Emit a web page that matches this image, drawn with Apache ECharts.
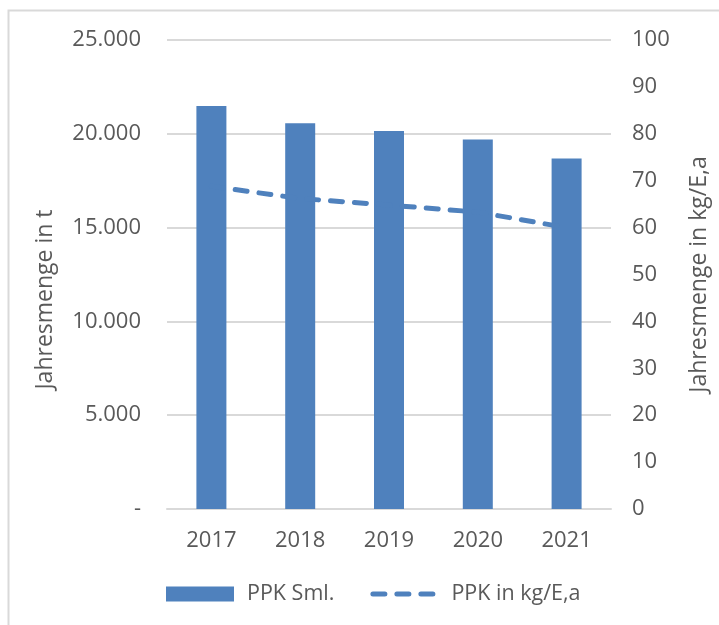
<!DOCTYPE html>
<html>
<head>
<meta charset="utf-8">
<script src="https://cdn.jsdelivr.net/npm/echarts@6/dist/echarts.min.js"></script>
<style>
  html, body { margin: 0; padding: 0; background: #fff; }
  #chart { width: 719px; height: 625px; }
</style>
</head>
<body>
<div id="chart"></div>
<script>
// Jahre
var years = ['2017', '2018', '2019', '2020', '2021'];
// PPK Sammelmenge in t
var ppkTonnen = [21480, 20560, 20150, 19700, 18680];
// PPK in kg pro Einwohner und Jahr
var ppkKgProEw = [68.8, 66.2, 64.8, 63.3, 60.0];

var blau = '#4f81bd';
var grau = '#595959';
var linie = '#d9d9d9';
var schrift = '"Open Sans", "Liberation Sans", sans-serif';

// drei gerundete Striche fuer die Legende (mit unsichtbaren Eckpunkten fuer 68x15)
var strich = function (x) {
  return 'M' + (x + 2.5) + ',5h12a2.5,2.5 0 0 1 0,5h-12a2.5,2.5 0 0 1 0,-5z';
};
var strichIcon = 'path://M0,0h0.1v0.1h-0.1z' + strich(0) + strich(24) + strich(48) + 'M67.9,14.9h0.1v0.1h-0.1z';

function tausender(v) {
  if (v === 0) return '-';
  return String(v).replace(/\B(?=(\d{3})+(?!\d))/g, '.');
}

var option = {
  animation: false,
  textStyle: { fontFamily: schrift },
  graphic: [{
    type: 'rect',
    shape: { x: 8.5, y: 10.5, width: 900, height: 800 },
    style: { fill: 'none', stroke: linie, lineWidth: 2 },
    silent: true
  }],
  grid: { left: 167, right: 108, top: 40, bottom: 116 },
  legend: {
    left: 161,
    top: 578,
    itemWidth: 68,
    itemHeight: 15,
    itemGap: 36,
    textStyle: { color: grau, fontSize: 21.5, fontFamily: schrift, padding: [0, 0, 0, 8] },
    data: [
      { name: 'PPK Sml.', icon: 'rect' },
      { name: 'PPK in kg/E,a', icon: strichIcon, itemStyle: { borderWidth: 0 } }
    ]
  },
  xAxis: {
    type: 'category',
    data: years,
    axisTick: { show: false },
    axisLine: { lineStyle: { color: linie, width: 2 } },
    axisLabel: { color: grau, fontSize: 22, margin: 21, fontFamily: schrift }
  },
  yAxis: [
    {
      type: 'value',
      min: 0,
      max: 25000,
      interval: 5000,
      name: 'Jahresmenge in t',
      nameLocation: 'middle',
      nameGap: 110,
      nameTextStyle: { color: grau, fontSize: 23, fontFamily: schrift, padding: [0, 50, 0, 0] },
      axisLine: { show: false },
      axisTick: { show: false },
      splitLine: { lineStyle: { color: linie, width: 2 } },
      axisLabel: { color: grau, fontSize: 22, margin: 26, fontFamily: schrift, formatter: tausender }
    },
    {
      type: 'value',
      min: 0,
      max: 100,
      interval: 10,
      name: 'Jahresmenge in kg/E,a',
      nameLocation: 'middle',
      nameGap: 77,
      nameTextStyle: { color: grau, fontSize: 23, fontFamily: schrift },
      axisLine: { show: false },
      axisTick: { show: false },
      splitLine: { show: false },
      axisLabel: { color: grau, fontSize: 22, margin: 21, fontFamily: schrift }
    }
  ],
  series: [
    {
      name: 'PPK Sml.',
      type: 'bar',
      yAxisIndex: 0,
      barWidth: 30,
      data: ppkTonnen,
      itemStyle: { color: blau }
    },
    {
      name: 'PPK in kg/E,a',
      type: 'line',
      yAxisIndex: 1,
      data: ppkKgProEw,
      symbol: 'none',
      z: 3,
      lineStyle: { color: blau, width: 5, type: [12, 12], cap: 'round' },
      itemStyle: { color: blau }
    }
  ]
};

var myChart = echarts.init(document.getElementById('chart'));
myChart.setOption(option);
</script>
</body>
</html>
